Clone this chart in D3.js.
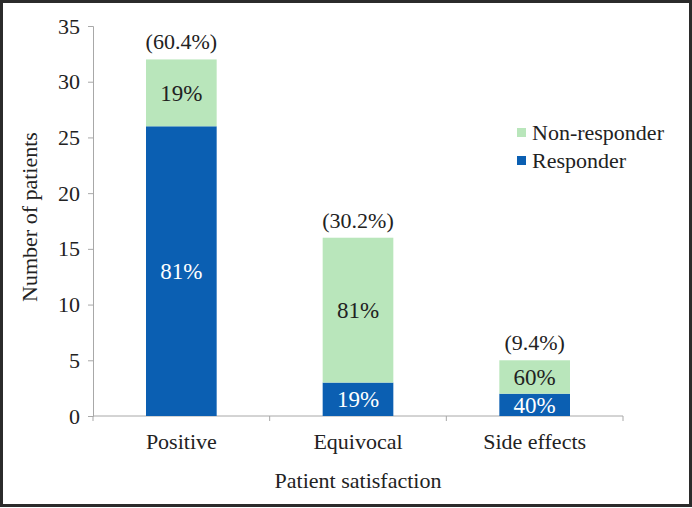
<!DOCTYPE html>
<html>
<head>
<meta charset="utf-8">
<script src="https://cdn.jsdelivr.net/npm/d3@7"></script>
<style>
  html, body { margin: 0; padding: 0; background: #fff; }
  svg { display: block; font-family: "Liberation Serif", "Times New Roman", serif; }
</style>
</head>
<body>
<div id="chart"></div>
<script>
const width = 692;
const height = 508;

// dados
const categories = ["Positive", "Equivocal", "Side effects"];
const responder = [26, 3, 2];
const nonResponder = [6, 13, 3];
const responderPct = ["81%", "19%", "40%"];
const nonResponderPct = ["19%", "81%", "60%"];
const totalPct = ["(60.4%)", "(30.2%)", "(9.4%)"];
const yTicks = [0, 5, 10, 15, 20, 25, 30, 35];
const seriesNames = ["Non-responder", "Responder"];
const colors = { "Responder": "#0b5fb2", "Non-responder": "#b9e6bb" };

const margin = { top: 26, right: 69, bottom: 92, left: 93 };
const fontSize = 22;

const svg = d3.select("#chart").append("svg")
  .attr("width", width)
  .attr("height", height);

// borda
svg.append("rect")
  .attr("x", 1.5).attr("y", 1.5)
  .attr("width", width - 3).attr("height", height - 4)
  .attr("fill", "none")
  .attr("stroke", "#2b2b2b")
  .attr("stroke-width", 3);

const x = d3.scaleBand()
  .domain(categories)
  .range([margin.left, width - margin.right])
  .paddingInner(0.6)
  .paddingOuter(0.3);

const y = d3.scaleLinear()
  .domain([0, 35])
  .range([height - margin.bottom, margin.top]);

// eixo y
const yAxis = svg.append("g")
  .attr("transform", `translate(${margin.left},0)`)
  .call(d3.axisLeft(y).tickValues(yTicks).tickSize(5).tickPadding(8));
yAxis.selectAll("text").attr("font-size", fontSize).attr("fill", "#222").attr("font-family", "Liberation Serif");
yAxis.selectAll("line, path").attr("stroke", "#a8a8a8");

// eixo x (ticks nos limites das categorias)
const xBottom = height - margin.bottom;
const catWidth = (width - margin.left - margin.right) / categories.length;
svg.append("line")
  .attr("x1", margin.left).attr("x2", width - margin.right)
  .attr("y1", xBottom).attr("y2", xBottom)
  .attr("stroke", "#a8a8a8");
svg.selectAll(".xtick")
  .data(d3.range(categories.length + 1))
  .enter().append("line")
  .attr("x1", (i) => margin.left + i * catWidth)
  .attr("x2", (i) => margin.left + i * catWidth)
  .attr("y1", xBottom).attr("y2", xBottom + 5)
  .attr("stroke", "#a8a8a8");
svg.selectAll(".xlabel")
  .data(categories)
  .enter().append("text")
  .attr("x", (d) => x(d) + x.bandwidth() / 2)
  .attr("y", xBottom + 33)
  .attr("text-anchor", "middle")
  .attr("font-size", fontSize)
  .attr("fill", "#222")
  .text((d) => d);

// barras empilhadas
const rows = categories.map((c, i) => ({
  cat: c, "Responder": responder[i], "Non-responder": nonResponder[i], i
}));
const stack = d3.stack().keys(["Responder", "Non-responder"])(rows);

const layers = svg.selectAll(".layer")
  .data(stack)
  .enter().append("g")
  .attr("fill", (d) => colors[d.key]);

layers.selectAll("rect")
  .data((d) => d)
  .enter().append("rect")
  .attr("x", (d) => x(d.data.cat))
  .attr("y", (d) => y(d[1]))
  .attr("width", x.bandwidth())
  .attr("height", (d) => y(d[0]) - y(d[1]));

// rótulos dentro das barras
stack.forEach((layer) => {
  const labels = layer.key === "Responder" ? responderPct : nonResponderPct;
  svg.selectAll(null)
    .data(layer)
    .enter().append("text")
    .attr("x", (d) => x(d.data.cat) + x.bandwidth() / 2)
    .attr("y", (d) => (y(d[0]) + y(d[1])) / 2)
    .attr("dy", "0.35em")
    .attr("text-anchor", "middle")
    .attr("font-size", 23)
    .attr("fill", layer.key === "Responder" ? "#fff" : "#222")
    .text((d) => labels[d.data.i]);
});

// percentuais do total
svg.selectAll(".total")
  .data(rows)
  .enter().append("text")
  .attr("x", (d) => x(d.cat) + x.bandwidth() / 2)
  .attr("y", (d) => y(d["Responder"] + d["Non-responder"]) - 10)
  .attr("text-anchor", "middle")
  .attr("font-size", fontSize)
  .attr("fill", "#222")
  .text((d) => totalPct[d.i]);

// legenda
const legend = svg.selectAll(".legend")
  .data(seriesNames)
  .enter().append("g")
  .attr("transform", (d, i) => `translate(517, ${128 + i * 28})`);
legend.append("rect")
  .attr("width", 9).attr("height", 9)
  .attr("fill", (d) => colors[d]);
legend.append("text")
  .attr("x", 15).attr("y", 12)
  .attr("font-size", fontSize)
  .attr("fill", "#222")
  .text((d) => d);

// títulos dos eixos
svg.append("text")
  .attr("x", (margin.left + width - margin.right) / 2)
  .attr("y", 488)
  .attr("text-anchor", "middle")
  .attr("font-size", fontSize)
  .attr("fill", "#222")
  .text("Patient satisfaction");

svg.append("text")
  .attr("transform", `translate(37, 217) rotate(-90)`)
  .attr("text-anchor", "middle")
  .attr("font-size", fontSize)
  .attr("fill", "#222")
  .text("Number of patients");
</script>
</body>
</html>
